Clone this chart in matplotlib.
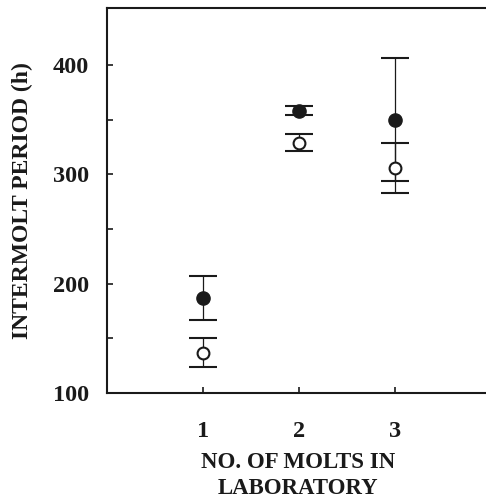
import numpy as np
import matplotlib
matplotlib.use("Agg")
import matplotlib.pyplot as plt

plt.rcParams['font.family'] = ['Liberation Serif', 'DejaVu Serif']
plt.rcParams['font.weight'] = 'bold'

# number of molts in laboratory
molts = [1, 2, 3]
# filled circles: mean and error
filled_mean = [187, 358, 350]
filled_err = [20, 4, 56]
# open circles: mean and error
open_mean = [137, 329, 306]
open_err = [13, 8, 23]

y_ticks = [100, 150, 200, 250, 300, 350, 400]
y_labels = ['100', '', '200', '', '300', '', '400']

fig = plt.figure(figsize=(4.86, 4.99), dpi=100)
ax = fig.add_axes([107 / 486, 106 / 499, 1 - 107 / 486, 385 / 499])

ink = '#1a1a1a'
ax.errorbar(molts, filled_mean, yerr=filled_err, fmt='o', color=ink,
            markersize=9.5, elinewidth=0.9, capsize=10, capthick=1.5, zorder=3)
ax.errorbar(molts, open_mean, yerr=open_err, fmt='o', color=ink,
            markerfacecolor='white', markeredgecolor=ink, markeredgewidth=1.5,
            markersize=8.5, elinewidth=0.9, capsize=10, capthick=1.5, zorder=3)

ax.set_xlim(0, 379 / 96)
ax.set_ylim(100, 452)

ax.spines['right'].set_visible(False)
for s in ['left', 'bottom', 'top']:
    ax.spines[s].set_linewidth(1.5)
    ax.spines[s].set_color(ink)

ax.set_xticks(molts)
ax.set_xticklabels([str(m) for m in molts])
ax.set_yticks(y_ticks)
ax.set_yticklabels(y_labels)
ax.tick_params(axis='both', direction='in', length=4.5, width=1.2, color=ink,
               labelsize=17.5, labelcolor=ink)
ax.tick_params(axis='x', pad=20)
ax.tick_params(axis='y', pad=13)
ax.tick_params(top=False, right=False)

ax.set_ylabel('INTERMOLT PERIOD (h)', fontsize=17, fontweight='bold', color=ink)
ax.yaxis.set_label_coords(-0.195, 0.50)
ax.set_xlabel('NO. OF MOLTS IN\nLABORATORY', fontsize=16.5, fontweight='bold',
              color=ink, linespacing=1.3)
ax.xaxis.set_label_coords(0.504, -0.153)

fig.savefig('out.png', dpi=100)
